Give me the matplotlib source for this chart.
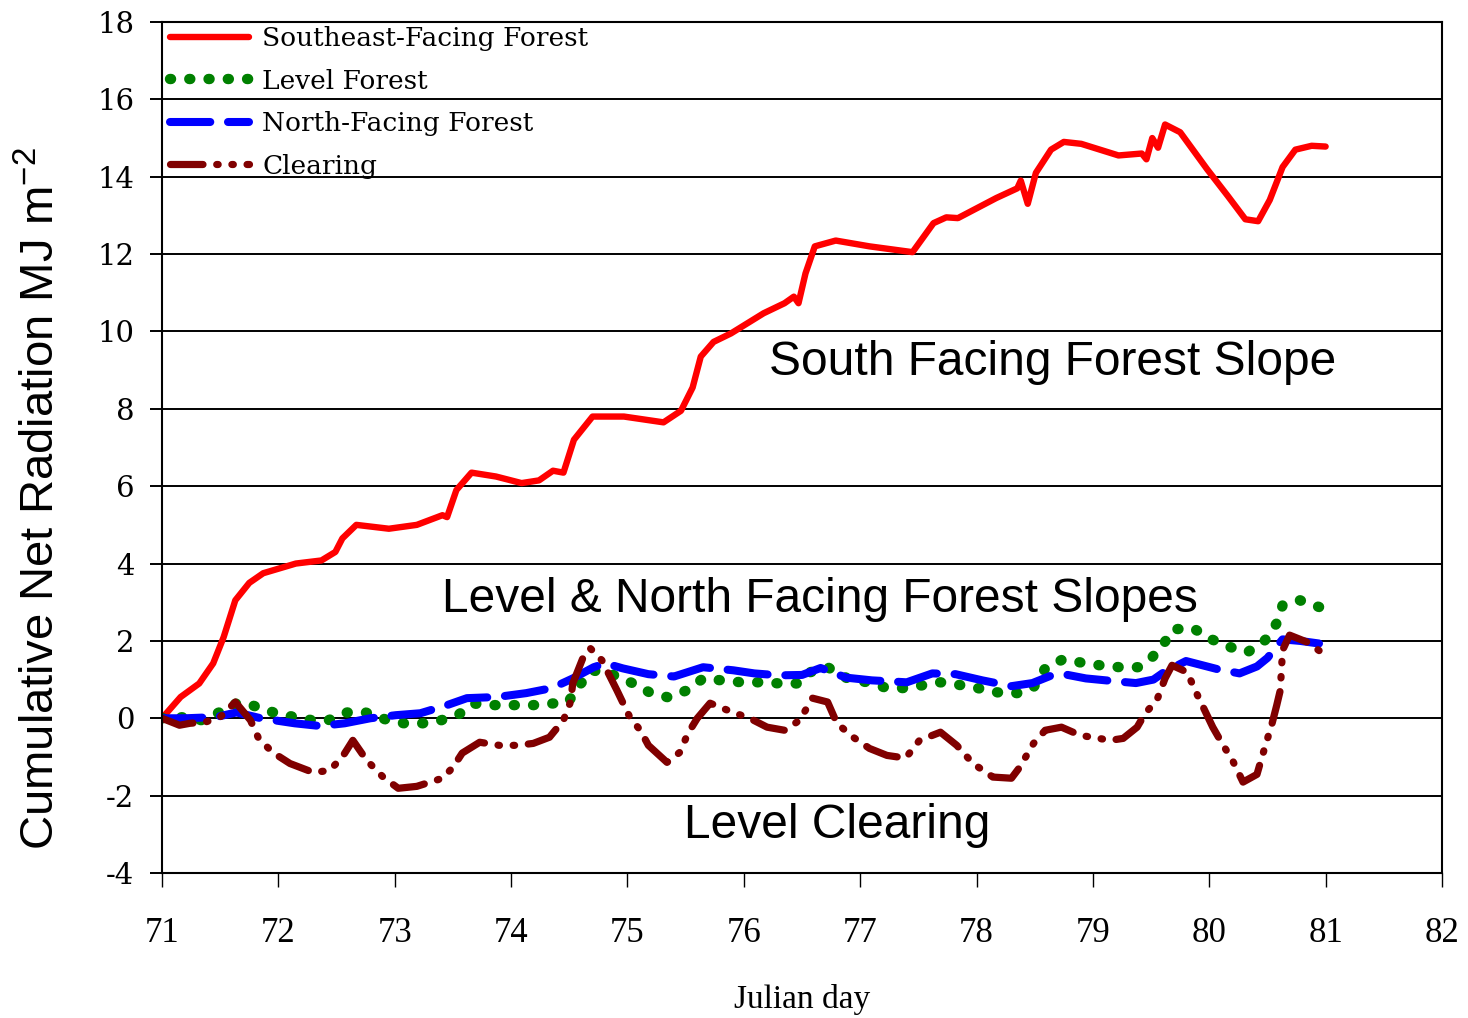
import matplotlib
matplotlib.use("Agg")
import matplotlib.pyplot as plt

# cumulative net radiation (MJ m-2) against julian day, read per series
se_day = [71.0, 71.16, 71.32, 71.44, 71.53, 71.63, 71.75, 71.87, 72.15, 72.37,
          72.49, 72.55, 72.67, 72.95, 73.19, 73.41, 73.45, 73.53, 73.66, 73.87,
          74.09, 74.24, 74.36, 74.45, 74.54, 74.70, 74.97, 75.31, 75.46, 75.56,
          75.63, 75.74, 75.89, 76.17, 76.35, 76.43, 76.47, 76.53, 76.61, 76.79,
          77.08, 77.45, 77.63, 77.74, 77.84, 78.17, 78.35, 78.38, 78.44, 78.51,
          78.64, 78.75, 78.90, 79.22, 79.42, 79.46, 79.51, 79.56, 79.62, 79.75,
          79.98, 80.16, 80.31, 80.42, 80.52, 80.63, 80.74, 80.88, 81.0]
se_val = [0.0, 0.55, 0.9, 1.42, 2.1, 3.05, 3.5, 3.75, 4.0, 4.08,
          4.3, 4.65, 5.0, 4.9, 5.0, 5.25, 5.2, 5.9, 6.35, 6.25,
          6.08, 6.15, 6.4, 6.35, 7.2, 7.8, 7.8, 7.65, 7.95, 8.55,
          9.35, 9.73, 9.95, 10.47, 10.73, 10.9, 10.73, 11.5, 12.2, 12.35,
          12.2, 12.05, 12.8, 12.95, 12.93, 13.45, 13.7, 13.9, 13.3, 14.1,
          14.7, 14.9, 14.85, 14.55, 14.6, 14.45, 15.0, 14.75, 15.35, 15.15,
          14.2, 13.5, 12.9, 12.85, 13.4, 14.25, 14.7, 14.8, 14.78]

lvl_day = [71.0, 71.2, 71.34, 71.49, 71.65, 71.78, 71.96, 72.14, 72.29, 72.43,
           72.59, 72.75, 72.94, 73.08, 73.24, 73.4, 73.55, 73.68, 73.84, 74.02,
           74.19, 74.35, 74.49, 74.6, 74.7, 74.88, 75.05, 75.19, 75.35, 75.51,
           75.65, 75.81, 75.98, 76.16, 76.31, 76.47, 76.57, 76.72, 76.89, 77.06,
           77.21, 77.37, 77.53, 77.69, 77.88, 78.01, 78.18, 78.35, 78.49, 78.59,
           78.74, 78.9, 79.06, 79.23, 79.39, 79.51, 79.6, 79.69, 79.86, 80.02,
           80.18, 80.33, 80.48, 80.58, 80.63, 80.78, 80.95]
lvl_val = [0.0, 0.03, -0.05, 0.15, 0.4, 0.33, 0.15, 0.03, -0.05, -0.05,
           0.15, 0.15, -0.05, -0.13, -0.13, -0.05, 0.1, 0.38, 0.34, 0.34,
           0.34, 0.38, 0.42, 0.9, 1.24, 1.12, 0.9, 0.67, 0.54, 0.72,
           1.03, 0.98, 0.93, 0.93, 0.9, 0.9, 1.19, 1.32, 1.03, 0.93,
           0.8, 0.78, 0.85, 0.93, 0.85, 0.78, 0.67, 0.65, 0.8, 1.29,
           1.52, 1.44, 1.37, 1.32, 1.32, 1.58, 1.89, 2.3, 2.33, 2.04,
           1.84, 1.71, 2.02, 2.46, 2.92, 3.05, 2.87]

nf_day = [71.0, 71.2, 71.46, 71.64, 71.85, 72.14, 72.36, 72.57, 72.79, 73.01,
          73.22, 73.44, 73.62, 73.88, 74.13, 74.35, 74.53, 74.71, 74.81, 74.96,
          75.18, 75.40, 75.65, 75.91, 76.09, 76.3, 76.5, 76.66, 76.88, 77.1,
          77.4, 77.62, 77.82, 78.05, 78.3, 78.48, 78.63, 78.75, 78.94, 79.18,
          79.37, 79.52, 79.61, 79.8, 80.07, 80.26, 80.41, 80.5, 80.63, 80.78,
          80.95, 81.0]
nf_val = [0.0, 0.0, 0.03, 0.15, 0.0, -0.13, -0.2, -0.13, 0.0, 0.08,
          0.13, 0.33, 0.52, 0.55, 0.65, 0.78, 1.03, 1.32, 1.42, 1.29,
          1.14, 1.08, 1.32, 1.24, 1.16, 1.11, 1.12, 1.3, 1.05, 0.98,
          0.93, 1.16, 1.14, 0.98, 0.83, 0.91, 1.09, 1.14, 1.03, 0.96,
          0.91, 1.0, 1.19, 1.48, 1.27, 1.16, 1.34, 1.56, 2.04, 2.0,
          1.93, 1.92]

clr_day = [71.0, 71.15, 71.24, 71.37, 71.5, 71.63, 71.76, 71.83, 71.95, 72.1,
           72.3, 72.44, 72.55, 72.64, 72.76, 72.9, 73.03, 73.19, 73.41, 73.5,
           73.58, 73.73, 73.9, 74.05, 74.19, 74.33, 74.45, 74.51, 74.53, 74.62,
           74.68, 74.78, 74.91, 75.02, 75.11, 75.18, 75.34, 75.45, 75.52, 75.6,
           75.71, 75.9, 76.05, 76.2, 76.35, 76.48, 76.59, 76.72, 76.8, 76.94,
           77.08, 77.23, 77.39, 77.51, 77.69, 77.83, 77.97, 78.14, 78.3, 78.37,
           78.49, 78.59, 78.73, 78.89, 79.15, 79.26, 79.38, 79.45, 79.55, 79.62,
           79.68, 79.81, 79.89, 80.03, 80.11, 80.2, 80.29, 80.41, 80.45, 80.54,
           80.58, 80.61, 80.63, 80.69, 80.84, 81.0]
clr_val = [0.0, -0.18, -0.13, -0.1, 0.03, 0.42, -0.05, -0.52, -0.88, -1.17,
           -1.4, -1.35, -1.0, -0.57, -1.09, -1.52, -1.81, -1.76, -1.55, -1.27,
           -0.9, -0.62, -0.7, -0.7, -0.65, -0.49, -0.05, 0.42, 0.9, 1.58,
           1.81, 1.5, 0.72, 0.03, -0.31, -0.7, -1.14, -0.88, -0.39, 0.0,
           0.39, 0.16, 0.0, -0.23, -0.31, -0.05, 0.52, 0.42, -0.13, -0.49,
           -0.78, -0.96, -1.03, -0.57, -0.36, -0.7, -1.17, -1.52, -1.55, -1.27,
           -0.65, -0.31, -0.23, -0.44, -0.57, -0.52, -0.23, 0.13, 0.47, 1.03,
           1.37, 1.19, 0.65, -0.23, -0.65, -1.09, -1.65, -1.45, -1.03, -0.13,
           0.34, 0.72, 1.76, 2.15, 1.97, 1.63]

x_ticks = list(range(71, 83))
y_ticks = list(range(-4, 19, 2))

plt.rcParams['mathtext.default'] = 'regular'

fig = plt.figure(figsize=(14.68, 10.18), dpi=100)
ax = fig.add_axes([162 / 1468, 145 / 1018, 1280 / 1468, 851 / 1018])

ax.plot(se_day, se_val, color='#ff0000', linewidth=4.6, solid_capstyle='round',
        solid_joinstyle='round', label='Southeast-Facing Forest')
ax.plot(lvl_day, lvl_val, color='#008000', linewidth=7.5, linestyle=(0, (0.1, 1.75)),
        dash_capstyle='round', label='Level Forest')
ax.plot(nf_day, nf_val, color='#0000ff', linewidth=5.8, linestyle=(0, (5, 2.2)),
        dash_capstyle='round', label='North-Facing Forest')
ax.plot(clr_day, clr_val, color='#800000', linewidth=5.2, dash_capstyle='round',
        linestyle=(0, (4.5, 1.9, 0.2, 1.9, 0.2, 1.9)), label='Clearing')

ax.set_xlim(71, 82)
ax.set_ylim(-4, 18)
ax.set_xticks(x_ticks)
ax.set_xticklabels([str(t) for t in x_ticks], family='Liberation Serif', fontsize=25)
ax.set_yticks(y_ticks)
ax.set_yticklabels([str(t) for t in y_ticks], family='DejaVu Serif', fontsize=21)
ax.grid(axis='y', color='black', linewidth=1.4)
ax.tick_params(axis='y', direction='out', length=9, width=1.4, pad=11)
ax.tick_params(axis='x', direction='out', length=10, width=1.0, pad=22)
for sp in ax.spines.values():
    sp.set_linewidth(1.5)

ax.set_xlabel('Julian day', family='Liberation Serif', fontsize=24, labelpad=24)
ax.set_ylabel('Cumulative Net Radiation MJ m$^{-2}$', family='Liberation Sans',
              fontsize=34)
ax.yaxis.set_label_coords(-0.076, 0.44)

ax.legend(loc='upper left', bbox_to_anchor=(0.006, 0.995), frameon=False,
          prop={'family': 'DejaVu Serif', 'size': 19}, handlelength=3.0,
          handletextpad=0.5, labelspacing=0.66, borderpad=0, borderaxespad=0)

ax.text(76.22, 9.2, 'South Facing Forest Slope', family='Liberation Sans',
        fontsize=34.5, va='center')
ax.text(73.41, 3.08, 'Level & North Facing Forest Slopes', family='Liberation Sans',
        fontsize=34.5, va='center')
ax.text(75.49, -2.76, 'Level Clearing', family='Liberation Sans',
        fontsize=34.5, va='center')

fig.savefig('out.png', dpi=100)
